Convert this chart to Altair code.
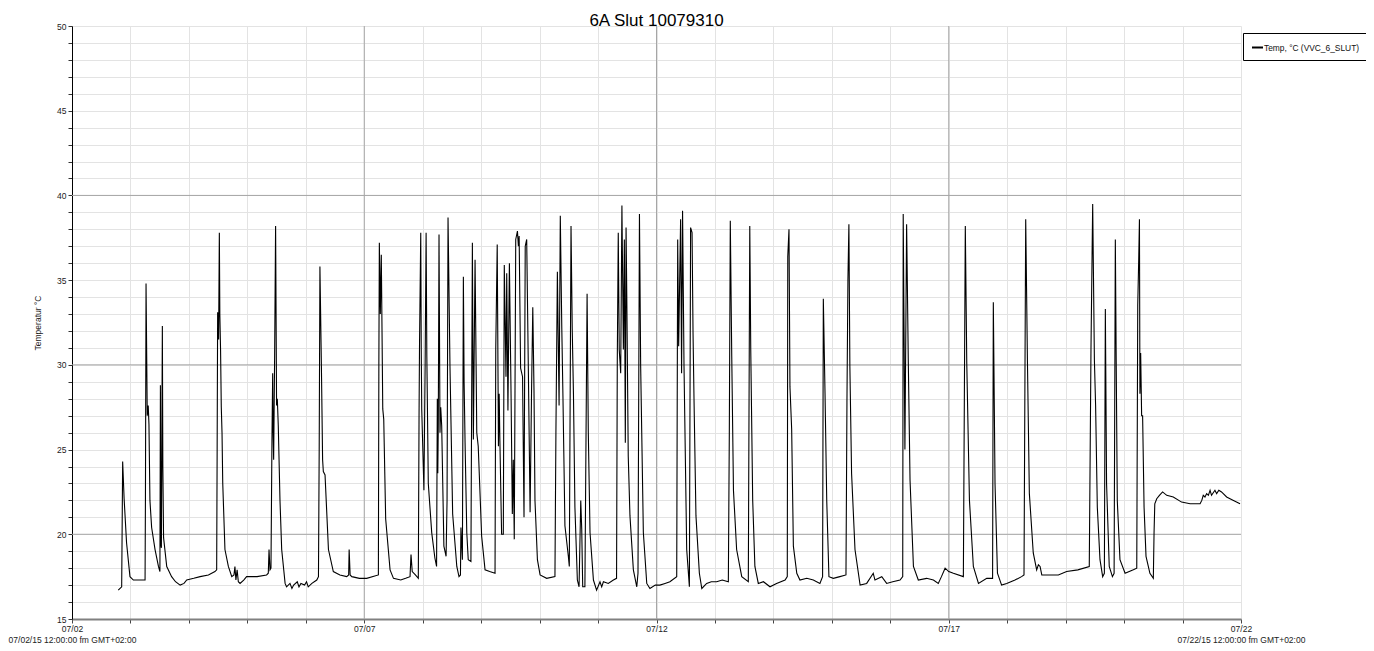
import altair as alt
import pandas as pd

# ---- data (hours since 07/02 00:00, temperature °C) ----
hours = [
    19.0, 20.4, 20.8, 21.4, 22.4, 23.8, 25.2, 27.5, 30.0, 30.15, 30.4, 30.9, 31.3, 31.6, 32.0, 32.7, 34.1, 35.5,
    36.1, 36.3, 36.5, 36.7, 37.1, 37.3, 37.6, 38.9, 40.9, 42.5, 44.4, 46.0, 47.1, 50.0, 52.6, 56.0, 58.7, 59.4,
    59.6, 59.8, 60.2, 60.5, 60.7, 61.0, 61.3, 61.6, 61.9, 62.8, 64.2, 65.6, 66.5, 66.9, 67.3, 67.8, 68.3, 69.0,
    70.5, 71.7, 76.0, 79.9, 80.6, 80.9, 81.3, 81.7, 82.1, 82.4, 82.6, 82.8, 83.2, 83.6, 84.0, 84.3, 84.7, 85.4,
    86.1, 87.5, 88.1, 89.5, 90.3, 91.0, 92.5, 93.2, 94.0, 95.5, 96.3, 97.0, 98.5, 100.5, 101.2, 101.5, 101.8,
    102.4, 102.9, 103.2, 103.9, 105.3, 107.3, 110.0, 112.8, 113.6, 113.8, 114.2, 114.9, 118.0, 121.0, 125.8,
    126.0, 126.2, 126.6, 127.0, 127.6, 128.0, 128.8, 130.6, 132.0, 135.0, 137.0, 138.8, 139.2, 139.7, 141.0,
    142.2,
    142.5, 142.7, 143.2, 143.4, 143.6, 144.5, 145.0, 145.4, 145.7, 146.3, 147.7, 149.0, 149.7, 150.0, 150.2,
    150.4, 150.7, 151.1, 151.4, 151.8, 152.7, 153.6, 154.0, 154.4, 155.2, 156.3, 158.0, 158.9, 159.5, 159.7,
    160.3, 160.7, 161.0, 161.4, 162.1, 162.7, 163.8, 164.4, 164.8, 165.5, 166.2, 166.8, 168.2, 169.6, 171.5,
    173.7, 174.0, 174.6, 175.1, 175.4, 175.7, 176.4, 177.1, 177.5, 178.2, 178.5, 179.0, 179.6, 180.3, 180.8,
    181.2, 181.6, 182.2, 182.9, 183.3, 183.6, 184.2, 185.0, 185.6, 186.1, 186.7, 187.4, 188.1, 188.7, 189.2,
    189.7, 190.1, 191.1, 192.2, 194.9, 198.3, 198.7, 199.3, 200.0, 200.5, 201.1, 201.6, 202.4, 203.8, 204.2,
    204.9, 205.4, 205.9, 206.5, 207.5, 208.2, 208.9, 209.3, 209.7, 210.6, 211.5, 212.0, 212.7, 214.1, 215.4,
    216.8, 217.5, 218.2, 220.2, 222.3, 223.6, 223.9, 224.3, 224.7, 225.3, 225.8, 226.4, 226.8, 227.2, 227.5,
    227.8, 228.4, 229.1, 230.5, 231.9, 232.4, 233.0, 233.5, 234.6, 236.0, 237.3, 239.5, 241.4, 243.5, 245.5,
    248.3, 248.7, 249.1, 249.9, 250.3, 250.7, 251.3, 252.4, 253.5, 254.0, 254.6, 255.0, 255.4, 256.2, 257.6,
    258.6, 260.6, 262.5, 264.7, 267.0, 269.5, 269.9, 270.3, 270.9, 271.6, 272.9, 275.0, 277.7,
    278.3, 278.7, 279.5, 280.4, 281.8, 283.9, 286.6, 289.3, 292.8, 293.7, 293.9, 294.4, 294.8, 295.5, 296.2,
    297.6, 298.9, 301.7, 304.4, 307.1, 308.2, 308.5, 309.2, 309.9, 310.8, 312.6, 315.3, 317.8, 318.2, 318.6,
    319.0, 319.4, 320.1, 321.5, 323.6, 326.3, 329.0, 329.7, 332.5, 334.5, 337.0, 340.0, 341.1, 341.3, 342.0,
    342.7, 343.4, 344.1, 345.5, 347.5, 350.9, 353.7, 355.7, 357.0, 358.5, 360.0, 361.9, 366.0, 366.8, 367.4,
    368.5, 370.1, 372.2, 375.6, 378.0, 378.3, 379.0, 380.0, 381.7, 383.8, 387.2, 389.9, 390.9, 391.6, 392.3,
    393.1, 394.7, 396.1, 396.8, 397.5, 398.2, 401.6,
    405.0, 408.4, 413.0, 417.7, 418.4, 419.1, 419.8, 420.3, 421.0, 422.1, 423.2, 423.9, 424.3, 424.8, 425.9,
    427.2, 427.9, 428.4, 428.7, 429.2, 430.3, 432.4, 435.8, 437.2, 437.6, 438.0, 438.3, 438.5, 438.8, 439.2,
    439.6, 440.2, 441.0, 442.6, 444.0, 444.3, 444.6, 445.4, 446.5, 447.8, 449.5, 452.2, 455.6, 459.1, 463.2,
    463.9, 464.5, 465.2, 465.9, 466.6, 467.3, 467.9, 469.3, 470.0, 470.9, 472.0, 474.1, 476.9, 479.6,
]
temps = [
    16.7, 16.9, 24.3, 22.1, 19.5, 17.5, 17.3, 17.3, 17.3, 22.0, 34.8, 27.0, 27.6, 26.5, 22.0, 20.4, 19.1, 18.1,
    17.8, 28.8, 19.4, 19.2, 32.3, 24.0, 19.8, 18.1, 17.5, 17.2, 17.0, 17.1, 17.3, 17.4, 17.5, 17.6, 17.8, 17.9,
    25.0, 33.1, 31.5, 37.8, 33.0, 30.9, 27.5, 26.0, 23.0, 19.1, 18.1, 17.5, 17.6, 18.1, 17.3, 17.9, 17.2, 17.1,
    17.3, 17.5, 17.5, 17.6, 17.7, 19.1, 17.9, 18.0, 25.5, 29.5, 26.0, 24.4, 30.5, 38.2, 27.6, 28.0, 26.4, 22.0,
    19.1, 17.1, 16.9, 17.1, 16.8, 17.0, 17.2, 16.9, 17.1, 17.0, 17.2, 16.9, 17.1, 17.3, 17.5, 25.0, 35.8,
    30.0, 24.4, 23.7, 23.5, 19.1, 17.8, 17.6, 17.5, 17.6, 19.1, 17.6, 17.5, 17.4, 17.4, 17.6,
    30.0, 37.2, 33.0, 36.5, 27.4, 26.8, 20.9, 17.9, 17.4, 17.3, 17.4, 17.5, 18.8, 17.8, 17.6,
    17.4,
    27.0, 31.3, 37.8, 31.0, 27.4, 22.6, 30.0, 37.8, 30.5, 23.0, 20.1, 18.6, 18.1, 28.0, 23.6,
    26.5, 37.7, 26.0, 27.5, 26.4, 19.3, 18.7, 22.0, 38.7, 29.9, 21.2, 18.1, 17.5, 17.6, 20.4,
    18.5, 35.2, 29.0, 25.4, 20.1, 18.5, 18.4, 37.2, 25.6, 36.2, 26.0, 25.2, 19.9, 17.9, 17.8,
    17.7, 31.0, 37.1, 25.2, 28.3, 25.5, 20.0, 20.0, 35.9, 29.3, 35.4, 27.3, 36.0, 28.0, 21.2,
    24.4, 19.7, 37.4, 37.9, 37.0, 37.6, 29.8, 29.3, 21.0, 37.0, 37.4, 29.5, 21.3, 28.5, 33.4,
    28.5, 22.0, 18.5, 17.6, 17.4, 17.5, 26.0, 35.5, 27.6, 38.8, 32.3, 28.0, 20.5, 18.7, 18.1,
    38.2, 32.1, 28.3, 21.6, 17.3, 16.9, 22.0, 20.3, 16.9, 16.9, 34.2, 26.0, 20.1, 17.3, 16.7,
    17.2, 16.9, 17.2, 17.1, 17.3, 17.4, 30.3, 37.8, 30.9, 29.5, 39.4, 30.9, 37.4, 25.4, 38.1,
    34.1, 24.6, 21.1, 17.9, 16.9, 17.7, 38.9, 29.9, 20.1, 17.1, 16.8, 17.0, 17.0, 17.1, 17.2,
    17.5, 37.4, 31.1, 38.6, 29.5, 39.1, 29.9, 19.1, 16.9, 38.1, 37.8, 31.9, 28.0, 21.1, 17.7,
    16.8, 17.1, 17.2, 17.2, 17.3, 17.2, 26.0, 38.5, 30.5, 22.6, 19.1, 17.5, 17.2,
    38.2, 30.9, 22.0, 18.1, 17.1, 17.2, 16.9, 17.1, 17.3, 17.5, 36.4, 38.0, 28.7, 26.2, 19.3,
    17.7, 17.3, 17.4, 17.3, 17.1, 17.5, 33.9, 28.3, 22.0, 17.5, 17.4, 17.5, 17.6, 27.8, 35.0,
    38.3, 29.9, 23.6, 19.1, 17.0, 17.1, 17.7, 17.3, 17.5, 17.1, 17.2, 17.3, 17.5, 38.9, 25.0,
    38.3, 30.1, 23.2, 18.1, 17.3, 17.4, 17.3, 17.1, 17.5, 18.0, 17.8, 17.7, 17.5, 38.2, 30.1,
    22.0, 18.1, 17.1, 17.4, 17.4, 33.7, 23.0, 17.7, 17.0, 17.1, 17.3, 17.5, 17.6, 38.6, 30.3,
    22.4, 18.9, 17.9, 18.2, 18.1, 17.6, 17.6,
    17.6, 17.8, 17.9, 18.1, 30.9, 39.5, 30.3, 27.6, 21.6, 18.5, 17.5, 17.7, 33.3, 23.0, 18.1,
    17.5, 17.7, 37.4, 31.3, 22.0, 18.5, 17.7, 17.9, 18.0, 33.5, 36.2, 38.6, 28.3, 30.7, 27.0,
    27.0, 21.6, 18.7, 17.7, 17.4, 20.1, 21.8, 22.1, 22.3, 22.5, 22.3, 22.2, 21.9, 21.8, 21.8,
    22.0, 22.3, 22.2, 22.4, 22.3, 22.6, 22.3, 22.6, 22.4, 22.6, 22.5, 22.2, 22.0, 21.8,
]

series_name = "Temp, °C (VVC_6_SLUT)"
chart_title = "6A Slut 10079310"
y_title = "Temperatur °C"

tick_hours = list(range(0, 481, 24))
label_hours = [0, 120, 240, 360, 480]
label_dates = ["07/02", "07/07", "07/12", "07/17", "07/22"]
full_stamps = {0: "07/02/15 12:00:00 fm GMT+02:00", 480: "07/22/15 12:00:00 fm GMT+02:00"}
y_ticks = list(range(15, 51))
major_temp_grid = [20, 30, 40]
major_hour_grid = [120, 240, 360]

# label expression for the x axis (multi-line at both ends)
expr = "''"
for h, d in reversed(list(zip(label_hours, label_dates))):
    if h in full_stamps:
        lab = "['%s', '%s']" % (d, full_stamps[h])
    else:
        lab = "'%s'" % d
    expr = "datum.value == %d ? %s : (%s)" % (h, lab, expr)

FONT = "Liberation Sans"

df = pd.DataFrame({"hour": hours, "temp": temps, "series": series_name})
x_scale = alt.Scale(domain=[0, 480], nice=False, zero=False)
y_scale = alt.Scale(domain=[15, 50], nice=False, zero=False)

x_axis = alt.Axis(
    values=tick_hours,
    labelExpr=expr,
    title=None,
    grid=True,
    gridColor="#e3e3e3",
    domainColor="#808080",
    domainWidth=2,
    tickColor="#444444",
    tickSize=4,
    labelFontSize=8.5,
    labelColor="#222222",
    labelFlush=False,
    labelOverlap=False,
    labelLineHeight=11,
    labelPadding=1,
    labelFont=FONT,
)
y_axis = alt.Axis(
    values=y_ticks,
    labelExpr="datum.value % 5 == 0 ? datum.label : ''",
    title=y_title,
    grid=True,
    gridColor="#e3e3e3",
    domainColor="black",
    domainWidth=1,
    tickColor="#333333",
    tickSize=4,
    labelFontSize=8.5,
    labelColor="#222222",
    labelPadding=2,
    labelFont=FONT,
    titleFont=FONT,
    titleFontSize=8.5,
    titleFontWeight="normal",
    titleColor="#222222",
    titlePadding=14,
)

hgrid = alt.Chart(pd.DataFrame({"temp": major_temp_grid})).mark_rule(
    color="#a6a6a6", strokeWidth=1
).encode(y=alt.Y("temp:Q", scale=y_scale, axis=y_axis))

vgrid = alt.Chart(pd.DataFrame({"hour": major_hour_grid})).mark_rule(
    color="#a6a6a6", strokeWidth=1
).encode(x=alt.X("hour:Q", scale=x_scale, axis=x_axis))

line = alt.Chart(df).mark_line(strokeWidth=1.1, interpolate="linear").encode(
    x=alt.X("hour:Q", scale=x_scale, axis=x_axis),
    y=alt.Y("temp:Q", scale=y_scale, axis=y_axis),
    color=alt.Color(
        "series:N",
        scale=alt.Scale(range=["black"]),
        legend=alt.Legend(
            title=None,
            orient="none",
            legendX=1171,
            legendY=7,
            symbolType="stroke",
            symbolStrokeWidth=2,
            symbolSize=121,
            labelFontSize=8.4,
            labelFont=FONT,
            labelColor="#111111",
            labelOffset=0,
            padding=8,
            strokeColor="black",
            fillColor="white",
        ),
    ),
)

chart = (
    alt.layer(hgrid, vgrid, line)
    .properties(
        width=1169,
        height=593,
        title=alt.TitleParams(
            chart_title, fontSize=17, font=FONT, fontWeight="normal",
            anchor="middle", frame="group", offset=0, dy=8, color="black",
        ),
        autosize=alt.AutoSizeParams(type="none"),
        padding={"left": 64, "top": 18, "right": 125, "bottom": 26},
    )
    .configure_view(stroke=None)
)

chart.save("out.html", embed_options={"renderer": "svg", "actions": False})
